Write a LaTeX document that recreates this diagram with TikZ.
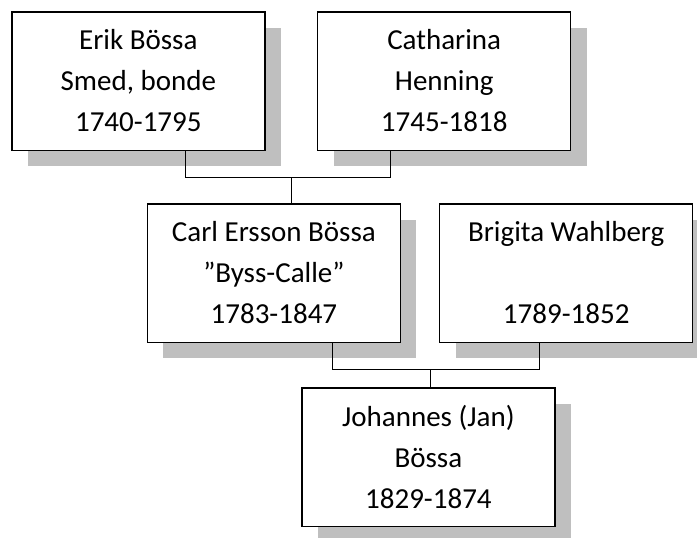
\documentclass[tikz,border=0pt]{standalone}
\usepackage{fontspec}
\setmainfont{Carlito}
\usetikzlibrary{shadows}
\definecolor{shadowgray}{RGB}{191,191,191}
\tikzset{
  person/.style={draw=black, line width=1.5pt, fill=white, rectangle,
    minimum width=253pt, minimum height=138.5pt, inner sep=0pt, align=center,
    font=\fontsize{29}{41}\selectfont,
    drop shadow={shadow xshift=16pt, shadow yshift=-16pt, fill=shadowgray, opacity=1}},
  conn/.style={draw=black, line width=1pt}
}
\begin{document}
\begin{tikzpicture}[x=1pt,y=-1pt]
\useasboundingbox (0,0) rectangle (697,538);
\node[person] (erik) at (138.3,81) {Erik Bössa\\Smed, bonde\\1740-1795};
\node[person] (cath) at (444.2,81) {Catharina\\Henning\\1745-1818};
\node[person] (carl) at (273.9,273) {Carl Ersson Bössa\\”Byss-Calle”\\1783-1847};
\node[person] (brig) at (566.2,273) {Brigita Wahlberg\\~\\1789-1852};
\node[person] (joh) at (428.4,457) {Johannes (Jan)\\Bössa\\1829-1874};
\coordinate (p1) at (185,177);
\coordinate (p2) at (390.7,177);
\coordinate (m1) at (291.7,177);
\coordinate (q1) at (332.7,369.3);
\coordinate (q2) at (539,369.3);
\coordinate (m2) at (430,369.3);
\draw[conn] (erik.south -| p1) -- (p1) -- (p2) -- (cath.south -| p2);
\draw[conn] (m1) -- (carl.north -| m1);
\draw[conn] (carl.south -| q1) -- (q1) -- (q2) -- (brig.south -| q2);
\draw[conn] (m2) -- (joh.north -| m2);
\end{tikzpicture}
\end{document}
